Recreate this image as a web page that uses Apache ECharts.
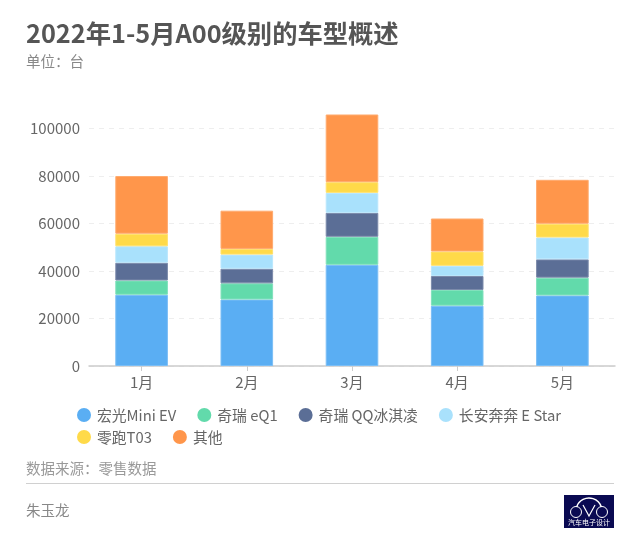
<!DOCTYPE html>
<html>
<head>
<meta charset="utf-8">
<style>
  html, body { margin: 0; padding: 0; background: #fff; }
  #main { width: 640px; height: 544px; }
</style>
<script src="https://cdn.jsdelivr.net/npm/echarts@6/dist/echarts.min.js"></script>
</head>
<body>
<div id="main"></div>
<script>
var months = ["1月", "2月", "3月", "4月", "5月"];
var seriesNames = ["宏光Mini EV", "奇瑞 eQ1", "奇瑞 QQ冰淇凌", "长安奔奔 E Star", "零跑T03", "其他"];
var colors = ["#5AAEF3", "#62DAAB", "#5B6E96", "#A9E1FC", "#FFDA49", "#FF964B"];
var borders = ["#7BBEF6", "#81E1BC", "#7C8BAB", "#BAE7FD", "#FFE16D", "#FFAB6F"];

var hongguang = [30000, 28000, 42600, 25400, 29700];
var eq1 = [6000, 6800, 11800, 6600, 7500];
var qq = [7500, 6200, 10100, 5900, 7700];
var benben = [6900, 5900, 8400, 4300, 9200];
var t03 = [5300, 2400, 4500, 6000, 5800];
var others = [24300, 16100, 28500, 13900, 18500];
var values = [hongguang, eq1, qq, benben, t03, others];

var font = '"Noto Sans CJK SC", "Noto Sans", sans-serif';

var myChart = echarts.init(document.getElementById("main"), null, { renderer: "canvas" });
myChart.setOption({
  animation: false,
  textStyle: { fontFamily: font },
  title: [
    {
      text: "2022年1-5月A00级别的车型概述",
      left: 26, top: 21, padding: 0,
      textStyle: { fontFamily: font, fontSize: 25.3, fontWeight: "bold", color: "#555555" }
    },
    {
      text: "单位：台",
      left: 26, top: 54, padding: 0,
      textStyle: { fontFamily: font, fontSize: 14.5, fontWeight: "normal", color: "#888888" }
    },
    {
      text: "数据来源：零售数据",
      left: 26, top: 461, padding: 0,
      textStyle: { fontFamily: font, fontSize: 14.5, fontWeight: "normal", color: "#999999" }
    },
    {
      text: "朱玉龙",
      left: 26, top: 503, padding: 0,
      textStyle: { fontFamily: font, fontSize: 14.5, fontWeight: "normal", color: "#888888" }
    }
  ],
  // axis runs to 120000 so the March bar is not cut off; the top tick stays hidden
  grid: { left: 89, right: 25, top: 81, bottom: 178 },
  legend: {
    left: 77, top: 407, width: 540, padding: 0,
    icon: "circle",
    itemWidth: 14, itemHeight: 14, itemGap: 6,
    itemStyle: { borderWidth: 0 },
    textStyle: { fontFamily: font, fontSize: 14.8, lineHeight: 16, color: "#666666", padding: [0, 15, 0, 1] },
    data: seriesNames
  },
  xAxis: {
    type: "category",
    data: months,
    axisLine: { lineStyle: { color: "#CCCCCC", width: 1.5 } },
    axisTick: { show: true, alignWithLabel: true, length: 5, lineStyle: { color: "#CCCCCC" } },
    axisLabel: { fontFamily: font, fontSize: 15, color: "#666666", margin: 9 }
  },
  yAxis: {
    type: "value",
    min: 0, max: 120000, interval: 20000,
    axisLine: { show: false },
    axisTick: { show: false },
    axisLabel: {
      fontFamily: font, fontSize: 15, color: "#666666", margin: 9,
      showMaxLabel: false,
      formatter: function (v) { return String(v); }
    },
    splitLine: { showMaxLine: false, lineStyle: { color: "#EEEEEE", type: [5, 5] } }
  },
  series: seriesNames.map(function (name, i) {
    return {
      name: name,
      type: "bar",
      stack: "total",
      barWidth: "50%",
      data: values[i],
      itemStyle: { color: colors[i], borderColor: borders[i], borderWidth: 1 }
    };
  }),
  graphic: [
    {
      type: "line", silent: true,
      shape: { x1: 26, y1: 483.5, x2: 614, y2: 483.5 },
      style: { stroke: "#D0D0D0", lineWidth: 1 }
    },
    {
      type: "group", left: 564, top: 495, silent: true,
      children: [
        { type: "rect", shape: { x: 0, y: 0, width: 50, height: 33 }, style: { fill: "#0A0A52" } },
        { type: "circle", shape: { cx: 12, cy: 17, r: 5.5 }, style: { fill: "none", stroke: "#FFFFFF", lineWidth: 1 } },
        { type: "circle", shape: { cx: 38, cy: 17, r: 5.5 }, style: { fill: "none", stroke: "#FFFFFF", lineWidth: 1 } },
        { type: "arc", shape: { cx: 25, cy: 16, r: 13, startAngle: Math.PI * 1.1, endAngle: Math.PI * 1.9 }, style: { fill: "none", stroke: "#FFFFFF", lineWidth: 1.5 } },
        { type: "polyline", shape: { points: [[19, 10], [25, 21], [31, 10]] }, style: { fill: "none", stroke: "#FFFFFF", lineWidth: 1.2 } },
        { type: "text", style: { x: 25, y: 27, text: "汽车电子设计", fontFamily: font, fontSize: 7, fill: "#FFFFFF", align: "center", verticalAlign: "middle" } }
      ]
    }
  ]
});
</script>
</body>
</html>
